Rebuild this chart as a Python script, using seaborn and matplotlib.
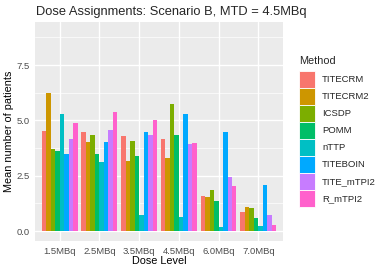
import numpy as np
import pandas as pd
import matplotlib
matplotlib.use("Agg")
import matplotlib.pyplot as plt
from matplotlib.patches import Rectangle
from matplotlib.ticker import MultipleLocator
import seaborn as sns

# Data
doses = ["1.5MBq", "2.5MBq", "3.5MBq", "4.5MBq", "6.0MBq", "7.0MBq"]
methods = ["TITECRM", "TITECRM2", "ICSDP", "POMM", "nTTP", "TITEBOIN", "TITE_mTPI2", "R_mTPI2"]

titecrm = [4.54, 4.49, 4.30, 4.16, 1.60, 0.86]
titecrm2 = [6.26, 4.04, 3.15, 3.32, 1.55, 1.09]
icsdp = [3.71, 4.36, 4.06, 5.76, 1.85, 1.03]
pomm = [3.62, 3.47, 3.39, 4.34, 1.34, 0.57]
nttp = [5.31, 3.11, 0.72, 0.63, 0.20, 0.21]
titeboin = [3.48, 4.04, 4.49, 5.29, 4.46, 2.08]
tite_mtpi2 = [4.15, 4.57, 4.36, 3.94, 2.44, 0.72]
r_mtpi2 = [4.89, 5.37, 5.04, 3.98, 2.02, 0.27]

palette = ["#F8766D", "#CD9600", "#7CAE00", "#00BE67",
           "#00BFC4", "#00A9FF", "#C77CFF", "#FF61CC"]

series = [titecrm, titecrm2, icsdp, pomm, nttp, titeboin, tite_mtpi2, r_mtpi2]
rows = []
for m, vals in zip(methods, series):
    for d, v in zip(doses, vals):
        rows.append({"Dose": d, "Method": m, "Mean": v})
df = pd.DataFrame(rows)

sns.set_theme(style="darkgrid")
plt.rcParams["font.family"] = ["Liberation Sans", "DejaVu Sans"]

W, H = 382, 273
fig = plt.figure(figsize=(W / 100, H / 100), dpi=100)
ax = fig.add_axes([35 / W, 1 - 241 / H, (283 - 35) / W, (241 - 22) / H])
ax.set_facecolor("#EBEBEB")

sns.barplot(data=df, x="Dose", y="Mean", hue="Method", order=doses,
            hue_order=methods, palette=palette, width=0.9, gap=0,
            saturation=1, linewidth=0, errorbar=None, legend=False, ax=ax)

ax.set_xlim(-0.62, 5.62)
ax.set_ylim(-0.45, 9.45)
ax.yaxis.set_minor_locator(MultipleLocator(1.25))
ax.set_yticks([0, 2.5, 5.0, 7.5])
ax.set_yticklabels(["0.0", "2.5", "5.0", "7.5"])
ax.set_axisbelow(True)
ax.grid(which="major", color="white", linewidth=1.0)
ax.grid(which="minor", axis="y", color="white", linewidth=0.5)
for s in ax.spines.values():
    s.set_visible(False)

ax.tick_params(axis="both", which="major", length=2.5, width=0.6, color="#333333",
               labelsize=6.8, labelcolor="#4D4D4D", pad=1.5)
ax.tick_params(axis="both", which="minor", length=0)
ax.set_xlabel("Dose Level", fontsize=7.8, color="black", va="center")
ax.set_ylabel("Mean number of patients", fontsize=7.8, color="black", va="center")
ax.xaxis.set_label_coords(0.5, (241 - 261) / 219)
ax.yaxis.set_label_coords((9 - 35) / 248, 0.5)

fig.text(36 / W, 1 - 12 / H, "Dose Assignments: Scenario B, MTD = 4.5MBq",
         fontsize=9.3, ha="left", va="center")

# legend drawn by hand in pixel coordinates (ggplot-style square keys)
fig.text(299 / W, 1 - 61 / H, "Method", fontsize=7.8, ha="left", va="center")
key_top, key_h, key_w = 71.5, 16.9, 16
for i, (c, m) in enumerate(zip(palette, methods)):
    y0 = key_top + i * key_h
    fig.add_artist(Rectangle((299 / W, 1 - (y0 + key_h) / H), key_w / W, key_h / H,
                             transform=fig.transFigure, facecolor=c,
                             edgecolor="white", linewidth=0.6))
    fig.text(322 / W, 1 - (y0 + key_h / 2) / H, m, fontsize=6.8,
             ha="left", va="center")

fig.savefig("out.png", dpi=100)
